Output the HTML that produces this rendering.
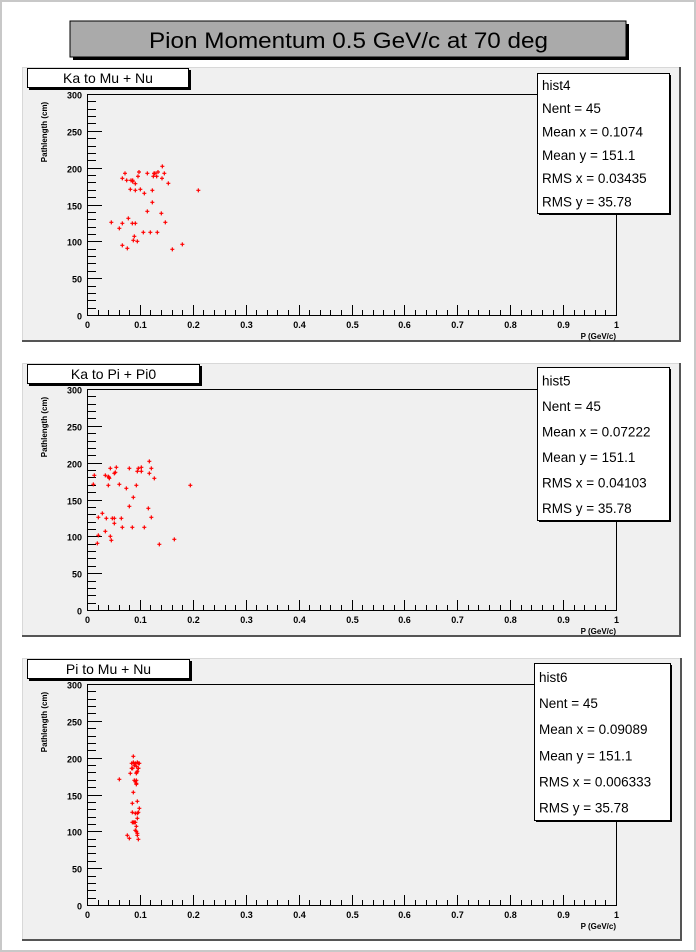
<!DOCTYPE html>
<html><head><meta charset="utf-8"><style>
html,body{margin:0;padding:0;background:#fff;}
svg{display:block;}
text{font-family:"Liberation Sans",sans-serif;}
</style></head><body>
<svg id="s" width="696" height="952" xmlns="http://www.w3.org/2000/svg">
<rect x="0" y="0" width="696" height="952" fill="#fff"/>
<rect x="1" y="1" width="694" height="950" fill="none" stroke="#c8c8c8" stroke-width="2"/>
<rect x="73" y="24" width="556" height="36" fill="#000"/>
<rect x="70" y="21" width="556" height="36" fill="#aaaaaa" stroke="#000" stroke-width="1"/>
<text x="149" y="48" font-size="22" textLength="399" lengthAdjust="spacingAndGlyphs" fill="#000">Pion Momentum 0.5 GeV/c at 70 deg</text>
</svg>
<script>
var S=document.getElementById('s'),NS='http://www.w3.org/2000/svg';
function el(t,a,txt){var e=document.createElementNS(NS,t);for(var k in a)e.setAttribute(k,a[k]);if(txt!==undefined)e.textContent=txt;S.appendChild(e);return e;}
var panels=[
{top:67,bot:342,right:681,ft:94,fb:315,lab:"Ka to Mu + Nu",lx2:189,sx1:537,sx2:669,sy1:73,sy2:213,
 st:["hist4","Nent = 45","Mean x = 0.1074","Mean y =  151.1","RMS x  = 0.03435","RMS y  =  35.78"],o:60,
 p:[[375,340],[367,355],[380,361],[393,361],[398,365],[406,371],[417,336],[414,349],[391,388],[406,391],[421,388],[433,400],[442,340],[457,391],[462,340],[460,349],[470,349],[474,336],[487,319],[486,355],[493,340],[505,370],[595,391],[457,427],[442,454],[484,460],[385,475],[334,487],[358,505],[367,490],[397,490],[406,490],[496,487],[430,517],[451,517],[472,517],[403,529],[400,541],[412,544],[367,556],[382,565],[547,553],[517,568],[465,340],[398,361]]},
{top:363,bot:637,right:681,ft:389,fb:610,lab:"Ka to Pi + Pi0",lx2:200,sx1:537,sx2:669,sy1:367,sy2:520,
 st:["hist5","Nent = 45","Mean x = 0.07222","Mean y =  151.1","RMS x  = 0.04103","RMS y  =  35.78"],o:350,
 p:[[283,376],[280,403],[316,376],[325,380],[328,385],[325,406],[331,355],[349,352],[346,367],[343,370],[358,403],[388,355],[379,415],[412,364],[415,355],[424,352],[424,364],[409,406],[448,334],[448,370],[454,355],[463,385],[400,442],[388,469],[445,475],[571,406],[295,502],[307,490],[319,505],[337,505],[343,505],[364,505],[343,520],[454,502],[367,532],[397,532],[433,532],[316,544],[331,559],[295,556],[334,571],[292,580],[478,583],[523,568],[327,382]]},
{top:658,bot:941,right:682,ft:684,fb:905,lab:"Pi to Mu + Nu",lx2:190,sx1:534,sx2:670,sy1:663,sy2:820,
 st:["hist6","Nent = 45","Mean x = 0.09089","Mean y =  151.1","RMS x  = 0.006333","RMS y  =  35.78"],o:645,
 p:[[400,334],[395,355],[400,352],[406,355],[412,352],[403,361],[409,364],[398,370],[415,370],[412,379],[409,385],[391,385],[358,403],[403,406],[409,406],[406,410],[409,415],[400,442],[412,469],[397,475],[418,490],[397,502],[406,505],[412,505],[415,502],[412,520],[400,532],[403,532],[406,532],[409,544],[406,556],[409,559],[412,565],[412,571],[382,571],[388,580],[415,583],[397,532],[415,370],[418,355],[395,370],[409,418],[415,355],[410,382]]}
];
panels.forEach(function(P){
 var L=22,R=P.right;
 el('rect',{x:L,y:P.top,width:R-L,height:P.bot-P.top,fill:'#f0f0f0'});
 el('line',{x1:L,y1:P.top+0.5,x2:R,y2:P.top+0.5,stroke:'#d8d8d8'});
 el('line',{x1:L+0.5,y1:P.top,x2:L+0.5,y2:P.bot,stroke:'#d8d8d8'});
 el('line',{x1:L,y1:P.bot-1,x2:R,y2:P.bot-1,stroke:'#555','stroke-width':2});
 el('line',{x1:R-1,y1:P.top,x2:R-1,y2:P.bot,stroke:'#555','stroke-width':2});
 el('rect',{x:29,y:P.top+3,width:P.lx2-27,height:20,fill:'#000'});
 el('rect',{x:27.5,y:P.top+1.5,width:P.lx2-28,height:19,fill:'#fff',stroke:'#000'});
 el('text',{x:(27+P.lx2)/2,y:P.top+16,'text-anchor':'middle','font-size':14},P.lab);
 var fl=87,fr=616,ft=P.ft,fb=P.fb,h=fb-ft;
 el('rect',{x:fl+0.5,y:ft+0.5,width:fr-fl,height:h,fill:'none',stroke:'#000'});
 for(var v=0;v<=300;v+=10){var y=Math.round(fb-v/300*h)+0.5;var maj=v%50==0;
  el('line',{x1:fl,y1:y,x2:fl+(maj?15:9),y2:y,stroke:'#000'});
  if(maj)el('text',{x:82,y:y+4,'text-anchor':'end','font-size':9,'font-weight':'bold'},v);}
 for(var i=0;i<=50;i++){var x=Math.round(fl+i/50*(fr-fl))+0.5;var maj=i%5==0;
  el('line',{x1:x,y1:fb,x2:x,y2:fb-(maj?10:5),stroke:'#000'});
  if(maj){var t=i==0?'0':(i==50?'1':(i/50).toFixed(1));el('text',{x:x,y:fb+13,'text-anchor':'middle','font-size':9,'font-weight':'bold'},t);}}
 el('text',{x:616,y:fb+24,'text-anchor':'end','font-size':8,'font-weight':'bold'},'P (GeV/c)');
 el('text',{x:0,y:0,'text-anchor':'middle','font-size':8,'font-weight':'bold',transform:'translate(47,'+(ft+38)+') rotate(-90)'},'Pathlength (cm)');
 P.p.forEach(function(q){var x=q[0]/3,y=P.o+q[1]/3;
  el('path',{d:'M'+(x-2)+' '+y+'H'+(x+2)+'M'+x+' '+(y-2)+'V'+(y+2),stroke:'#ff0000','stroke-width':1.2});});
 el('rect',{x:P.sx1+2,y:P.sy1+2,width:P.sx2-P.sx1,height:P.sy2-P.sy1,fill:'#000'});
 el('rect',{x:P.sx1+0.5,y:P.sy1+0.5,width:P.sx2-P.sx1,height:P.sy2-P.sy1,fill:'#fff',stroke:'#000'});
 var dy=(P.sy2-P.sy1)/6;
 P.st.forEach(function(s,k){el('text',{x:P.sx1+5,y:P.sy1+dy*k+dy*0.72,'font-size':13.5},s);});
});
</script>
</body></html>
